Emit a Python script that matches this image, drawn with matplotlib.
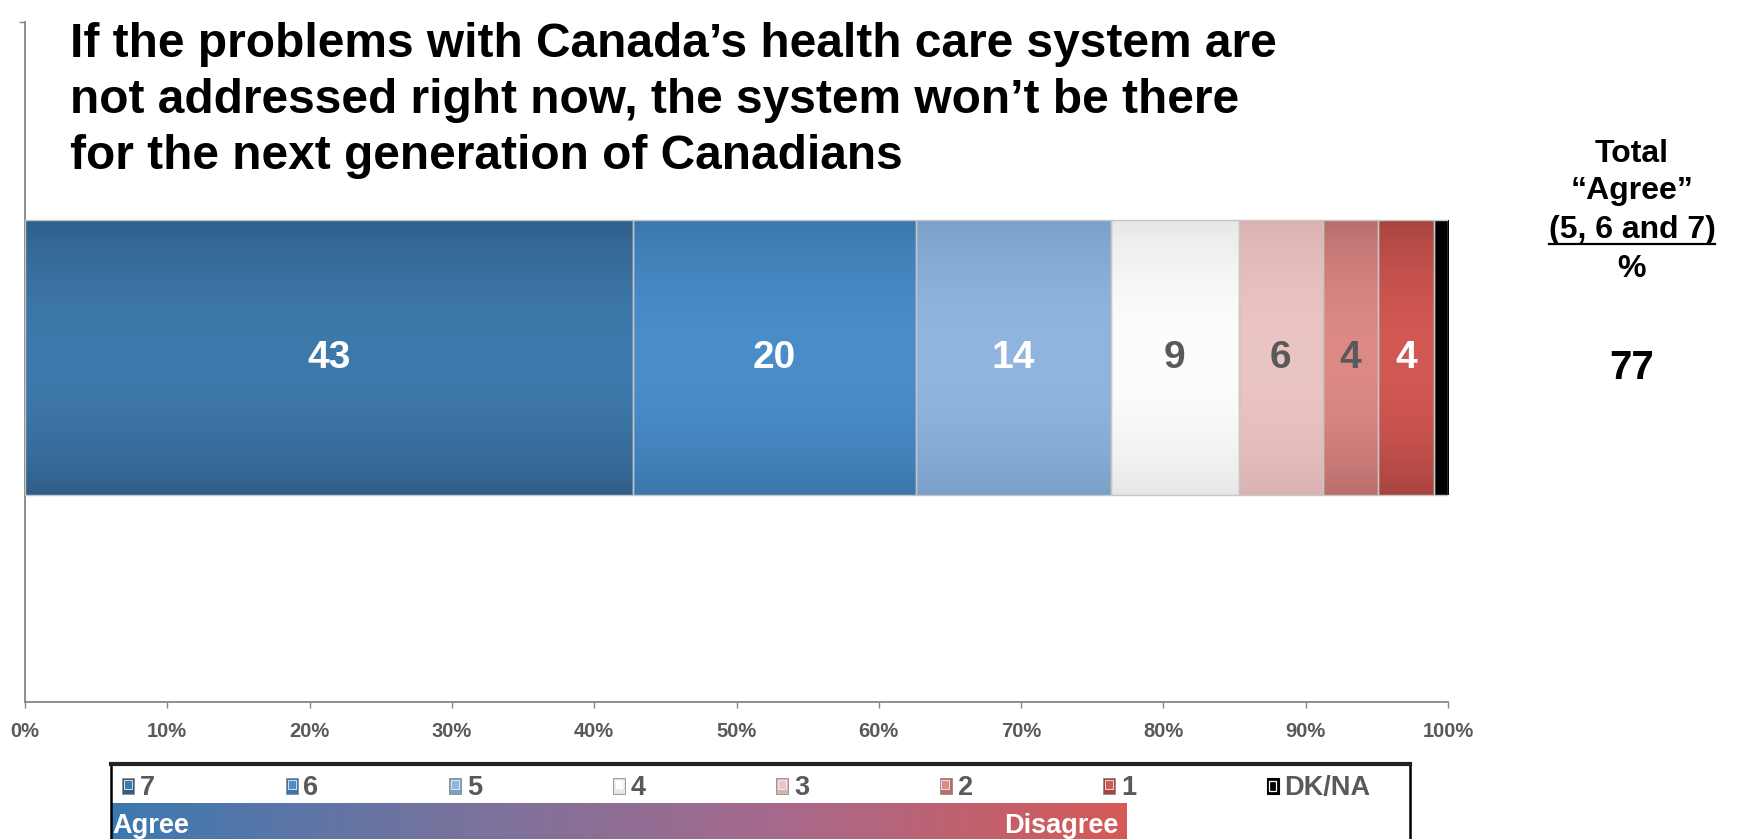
import numpy as np
import matplotlib
matplotlib.use("Agg")
import matplotlib.pyplot as plt
from matplotlib.patches import Rectangle
from matplotlib.colors import to_rgb, LinearSegmentedColormap
from matplotlib.lines import Line2D

plt.rcParams['font.family'] = ['Liberation Sans', 'DejaVu Sans']

# ---- data -------------------------------------------------------------
title_lines = [
    "If the problems with Canada\u2019s health care system are",
    "not addressed right now, the system won\u2019t be there",
    "for the next generation of Canadians",
]
categories = ["7", "6", "5", "4", "3", "2", "1", "DK/NA"]
shares = [42.7, 19.9, 13.7, 9.0, 5.9, 3.9, 3.9, 1.0]
show_value = [True, True, True, True, True, True, True, False]
value_colors = ["white", "white", "white", "#595959", "#595959", "#595959", "white", "white"]
edge_shades = ["#2F5E89", "#3A76AB", "#79A0C6", "#E6E6E6", "#DBB2B2", "#B76D6B", "#A7433F", "#000000"]
mid_shades = ["#3E79AB", "#4A8DC9", "#90B5DF", "#FDFDFD", "#EBC4C4", "#DD8A86", "#D25853", "#000000"]
total_header = ["Total", "\u201cAgree\u201d", "(5, 6 and 7)", "%"]
total_agree = 77
xticks = list(range(0, 101, 10))
scale_ends = ["Agree", "Disagree"]

# ---- figure -----------------------------------------------------------
W, H = 1737, 839
fig = plt.figure(figsize=(W / 100, H / 100), dpi=100)


def fx(px):
    return px / W


def fy(py):
    return 1 - py / H


ax = fig.add_axes([fx(25), fy(702), fx(1448 - 25), (702 - 22) / H])
ax.set_autoscale_on(False)
ax.set_xlim(0, 100)
ax.set_ylim(-0.626, 0.61)

t = np.linspace(0, 1, 256)
profile = np.sin(np.pi * t) ** 0.8

left = 0.0
for cat, v, show, vcol, c_edge, c_mid in zip(categories, shares, show_value,
                                              value_colors, edge_shades, mid_shades):
    bars = ax.barh(0, v, left=left, height=0.5, facecolor="none",
                   edgecolor="#C6C6C6", linewidth=1.0, zorder=3)
    patch = bars[0]
    a = np.array(to_rgb(c_edge))
    b = np.array(to_rgb(c_mid))
    img = a[None, :] * (1 - profile[:, None]) + b[None, :] * profile[:, None]
    im = ax.imshow(img[:, None, :], extent=(left, left + v, -0.25, 0.25),
                   aspect="auto", zorder=2, interpolation="bilinear")
    im.set_clip_path(patch)
    if show:
        ax.bar_label(bars, labels=[f"{v:.0f}"], label_type="center",
                     color=vcol, fontsize=28, fontweight="bold", zorder=4)
    left += v

ax.set_xlim(0, 100)
ax.set_ylim(-0.626, 0.61)

for side in ("top", "right"):
    ax.spines[side].set_visible(False)
for side in ("left", "bottom"):
    ax.spines[side].set_color("#868686")
    ax.spines[side].set_linewidth(1.3)

ax.set_xticks(xticks)
ax.set_xticklabels([f"{x}%" for x in xticks])
ax.tick_params(axis="x", direction="out", length=4.5, width=1, color="#868686",
               labelsize=14.5, labelcolor="#595959", pad=10)
for lab in ax.get_xticklabels():
    lab.set_fontweight("bold")
ax.set_yticks([0.61])
ax.set_yticklabels([])
ax.tick_params(axis="y", direction="out", length=4, width=1, color="#868686")

# ---- title ------------------------------------------------------------
for i, line in enumerate(title_lines):
    fig.text(fx(70), fy(57 + i * 56), line, fontsize=34.5, fontweight="bold",
             ha="left", va="baseline", color="black")

# ---- total agree block -----------------------------------------------
cx = fx(1632)
header_baselines = [162, 199, 238, 277]
hdr_texts = []
for txt, base in zip(total_header, header_baselines):
    hdr_texts.append(fig.text(cx, fy(base), txt, fontsize=23, fontweight="bold",
                              ha="center", va="baseline", color="black"))
fig.text(cx, fy(379), f"{total_agree}", fontsize=29, fontweight="bold",
         ha="center", va="baseline", color="black")

fig.canvas.draw()
renderer = fig.canvas.get_renderer()
bb = hdr_texts[2].get_window_extent(renderer)
fig.add_artist(Line2D([bb.x0 / W, bb.x1 / W], [fy(244), fy(244)],
                      transform=fig.transFigure, color="black", linewidth=1.6))

# ---- legend -----------------------------------------------------------
fig.add_artist(Rectangle((fx(111), -0.05), fx(1410 - 111), fy(764) + 0.05,
                         transform=fig.transFigure, fill=False,
                         edgecolor="black", linewidth=1.8))
fig.add_artist(Line2D([fx(111), fx(1410)], [fy(764), fy(764)],
                      transform=fig.transFigure, color="#222222", linewidth=3))

for i, (cat, c_edge, c_mid) in enumerate(zip(categories, edge_shades, mid_shades)):
    mx = 122 + i * 163.5
    if cat == "DK/NA":
        fig.add_artist(Rectangle((fx(mx), fy(794)), fx(12), 16 / H,
                                 transform=fig.transFigure, facecolor="black",
                                 edgecolor="black", linewidth=0.8))
        fig.add_artist(Rectangle((fx(mx + 2.5), fy(791)), fx(7), 10 / H,
                                 transform=fig.transFigure, facecolor="black",
                                 edgecolor="white", linewidth=0.9))
    else:
        fig.add_artist(Rectangle((fx(mx), fy(794)), fx(12), 16 / H,
                                 transform=fig.transFigure, facecolor=c_edge,
                                 edgecolor="#8C8C8C", linewidth=0.6))
        fig.add_artist(Rectangle((fx(mx + 2), fy(789)), fx(8), 9 / H,
                                 transform=fig.transFigure, facecolor=c_mid,
                                 edgecolor="#F2F2F2", linewidth=0.6))
    fig.text(fx(mx + 18), fy(795), cat, fontsize=19.5, fontweight="bold",
             color="#595959", ha="left", va="baseline")

grad = LinearSegmentedColormap.from_list(
    "agree_disagree", ["#3C79B1", "#76739E", "#A8698B", "#D55A55"])
gax = fig.add_axes([fx(111), 0, fx(1127 - 111), (839 - 803) / H])
gax.imshow(np.linspace(0, 1, 512)[None, :], cmap=grad, aspect="auto",
           extent=(0, 1, 0, 1))
gax.axis("off")
fig.text(fx(112), fy(833), scale_ends[0], fontsize=19.5, fontweight="bold",
         color="white", ha="left", va="baseline")
fig.text(fx(1118), fy(833), scale_ends[1], fontsize=19.5, fontweight="bold",
         color="white", ha="right", va="baseline")

fig.savefig("out.png", dpi=100)
